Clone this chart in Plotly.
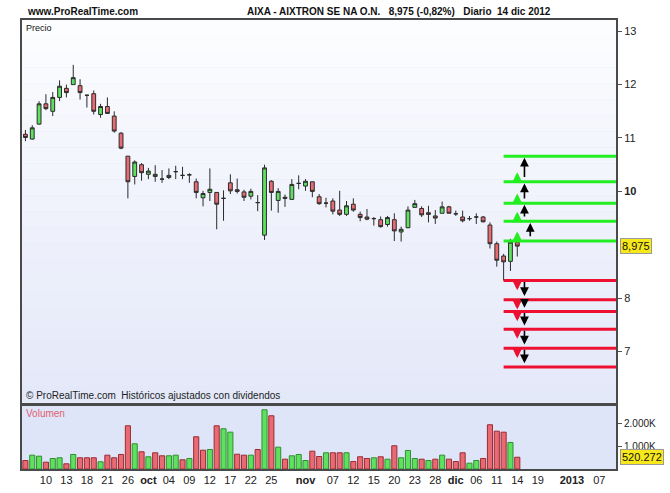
import plotly.graph_objects as go

# ---------------- data ----------------
day_index = list(range(-3, 70))  # trading-day index, 0 = 10 Sep 2012
opens = [11.07, 10.98, 11.26, 11.64, 11.50, 11.76, 11.93, 12.00, 11.98, 11.80,
         11.83, 11.44, 11.59, 11.41, 11.09, 10.66, 10.28, 10.50, 10.32, 10.28,
         10.23, 10.26, 10.37, 10.30, 10.31, 10.18, 9.88, 9.98, 9.98, 9.87,
         10.16, 10.03, 9.99, 9.91, 9.79, 9.18, 10.19, 9.83, 9.89, 9.85,
         10.15, 10.10, 10.18, 9.90, 9.78, 9.82, 9.65, 9.57, 9.76, 9.57,
         9.52, 9.49, 9.47, 9.38, 9.47, 9.24, 9.32, 9.70, 9.68, 9.60,
         9.54, 9.59, 9.71, 9.58, 9.52, 9.49, 9.52, 9.52, 9.37, 9.02,
         8.79, 8.69, 9.05]
highs = [11.15, 11.24, 11.69, 11.82, 11.86, 12.08, 12.00, 12.37, 12.10, 11.81,
         11.89, 11.64, 11.76, 11.50, 11.11, 10.66, 10.58, 10.53, 10.44, 10.49,
         10.40, 10.43, 10.48, 10.46, 10.34, 10.24, 10.01, 10.43, 9.98, 10.02,
         10.32, 10.24, 10.03, 10.05, 9.93, 10.50, 10.21, 10.06, 9.94, 10.23,
         10.30, 10.23, 10.18, 9.95, 9.88, 9.87, 10.01, 9.82, 9.87, 9.62,
         9.67, 9.52, 9.53, 9.54, 9.59, 9.34, 9.72, 9.84, 9.72, 9.73,
         9.65, 9.81, 9.73, 9.64, 9.64, 9.54, 9.59, 9.54, 9.42, 9.06,
         8.83, 9.11, 9.13]
lows = [10.94, 10.97, 11.25, 11.52, 11.41, 11.69, 11.76, 12.00, 11.72, 11.57,
        11.44, 11.38, 11.46, 11.10, 10.79, 9.87, 10.13, 10.20, 10.23, 10.18,
        10.16, 10.23, 10.23, 10.23, 10.16, 9.87, 9.72, 9.82, 9.29, 9.45,
        9.95, 9.96, 9.82, 9.85, 9.63, 9.09, 9.64, 9.60, 9.71, 9.85,
        10.04, 10.01, 9.89, 9.75, 9.70, 9.57, 9.54, 9.54, 9.62, 9.44,
        9.46, 9.36, 9.32, 9.34, 9.07, 9.06, 9.31, 9.70, 9.52, 9.42,
        9.39, 9.59, 9.59, 9.54, 9.42, 9.45, 9.39, 9.42, 8.93, 8.59,
        8.33, 8.51, 8.78]
closes = [11.01, 11.19, 11.64, 11.55, 11.76, 11.97, 11.85, 12.13, 11.85, 11.80,
          11.50, 11.59, 11.46, 11.13, 10.81, 10.18, 10.55, 10.35, 10.38, 10.32,
          10.23, 10.30, 10.37, 10.30, 10.31, 9.98, 9.96, 10.04, 9.76, 9.87,
          10.01, 10.00, 9.89, 10.00, 9.79, 10.44, 9.98, 10.00, 9.87, 10.13,
          10.15, 10.19, 10.00, 9.77, 9.78, 9.63, 9.57, 9.73, 9.65, 9.51,
          9.48, 9.49, 9.34, 9.51, 9.26, 9.29, 9.65, 9.77, 9.56, 9.57,
          9.50, 9.71, 9.59, 9.58, 9.45, 9.49, 9.52, 9.43, 9.02, 8.71,
          8.68, 9.05, 8.975]
volumes_k = [376, 611, 566, 301, 465, 496, 230, 642, 496, 496,
             496, 319, 611, 496, 642, 1911, 1115, 761, 540, 717,
             584, 584, 611, 407, 465, 1425, 832, 863, 1911, 1779,
             1630, 655, 611, 611, 863, 2619, 2354, 965, 434, 584,
             642, 376, 788, 553, 717, 717, 717, 717, 332, 540,
             465, 496, 540, 434, 1027, 496, 819, 465, 434, 376,
             434, 611, 434, 332, 717, 257, 376, 465, 1956, 1673,
             1628, 1173, 520.272]

resistance_levels = [10.66, 10.18, 9.78, 9.44, 9.07]
support_levels = [8.33, 7.97, 7.75, 7.42, 7.06, 6.71]
levels_start_day = 67

tick_days = [0, 3, 6, 9, 12, 15, 18, 21, 24, 27, 30, 33, 38, 42, 45, 48, 51, 54,
             57, 60, 63, 66, 69, 72, 77, 81]
tick_labels = ["10", "13", "18", "21", "26", "<b>oct</b>", "04", "09", "12", "17",
               "22", "25", "<b>nov</b>", "07", "12", "15", "20", "23", "28",
               "<b>dic</b>", "06", "11", "14", "19", "<b>2013</b>", "07"]
price_ticks = [7, 8, 10, 11, 12, 13]
price_tick_labels = ["7", "8", "<b>10</b>", "11", "12", "13"]
vol_ticks = [1000, 2000]
vol_tick_labels = ["1.000K", "2.000K"]

last_price_label = "8,975"
last_vol_label = "520.272"
title_text = "AIXA - AIXTRON SE NA O.N.&nbsp;&nbsp; 8,975 (-0,82%)&nbsp;&nbsp; Diario&nbsp; 14 dic 2012"

# ---------------- style ----------------
GREEN = "#5fe05f"
RED = "#e86a72"
X_MIN, X_MAX = -3.5, 83.45
FONT = "Liberation Sans, Arial, sans-serif"

fig = go.Figure()

fig.add_trace(go.Candlestick(
    x=day_index, open=opens, high=highs, low=lows, close=closes,
    xaxis="x2", yaxis="y",
    increasing=dict(fillcolor=GREEN, line=dict(color="#2b2b2b", width=1)),
    decreasing=dict(fillcolor=RED, line=dict(color="#2b2b2b", width=1)),
    whiskerwidth=0, showlegend=False, hoverinfo="skip",
))

vol_colors, vol_lines = [], []
for i, c in enumerate(closes):
    up = i > 0 and c > closes[i - 1]
    vol_colors.append(GREEN if up else RED)
    vol_lines.append("#2f8f2f" if up else "#9b2a33")

fig.add_trace(go.Bar(
    x=day_index, y=volumes_k, xaxis="x", yaxis="y2",
    marker=dict(color=vol_colors, line=dict(color=vol_lines, width=1)),
    showlegend=False, hoverinfo="skip",
))

for lv in resistance_levels:
    fig.add_trace(go.Scatter(x=[levels_start_day, X_MAX], y=[lv, lv], mode="lines",
                             line=dict(color="#22ee22", width=3), xaxis="x2", yaxis="y",
                             showlegend=False, hoverinfo="skip"))
for lv in support_levels:
    fig.add_trace(go.Scatter(x=[levels_start_day, X_MAX], y=[lv, lv], mode="lines",
                             line=dict(color="#ee1030", width=3), xaxis="x2", yaxis="y",
                             showlegend=False, hoverinfo="skip"))

annotations = []
arrow_day = day_index[-1]


def arrow(x, y_head, y_tail, color, width, size):
    annotations.append(dict(x=x, y=y_head, ax=x, ay=y_tail, xref="x2", yref="y",
                            axref="x2", ayref="y", showarrow=True, arrowhead=2,
                            arrowsize=size, arrowwidth=width, arrowcolor=color,
                            standoff=0, startstandoff=0, text=""))


for lv in resistance_levels[1:]:
    arrow(arrow_day, lv + 0.18, lv, "#22ee22", 3, 0.7)
for lv in support_levels[:-1]:
    arrow(arrow_day, lv - 0.18, lv, "#ee1030", 3, 0.7)
ups = sorted(resistance_levels)
for k in range(len(ups) - 1):
    xx = arrow_day + (1.9 if k == 0 else 1.05)
    arrow(xx, ups[k + 1] - 0.03, ups[k] + 0.06, "black", 1.6, 1.1)
for k in range(len(support_levels) - 1):
    arrow(arrow_day + 1.05, support_levels[k + 1] + 0.07, support_levels[k], "black", 1.6, 1.1)

annotations += [
    dict(x=0, y=1, xref="paper", yref="paper", xanchor="left", yanchor="bottom",
         xshift=3, yshift=1, text="<b>www.ProRealTime.com</b>", showarrow=False,
         font=dict(family=FONT, size=10, color="#111")),
    dict(x=0.635, y=1, xref="paper", yref="paper", xanchor="center", yanchor="bottom",
         yshift=1, text="<b>" + title_text + "</b>", showarrow=False,
         font=dict(family=FONT, size=10, color="#111")),
    dict(x=0, y=1, xref="x2 domain", yref="y domain", xanchor="left", yanchor="top",
         xshift=2, yshift=-1, text="Precio", showarrow=False,
         font=dict(family=FONT, size=9, color="#111")),
    dict(x=0, y=0, xref="x2 domain", yref="y domain", xanchor="left", yanchor="bottom",
         xshift=2, yshift=0, text="© ProRealTime.com  Históricos ajustados con dividendos",
         showarrow=False, font=dict(family=FONT, size=10, color="#222")),
    dict(x=0, y=1, xref="x domain", yref="y2 domain", xanchor="left", yanchor="top",
         xshift=2, yshift=0, text="Volumen", showarrow=False,
         font=dict(family=FONT, size=10, color="#e06070")),
    dict(x=1, y=closes[-1], xref="x2 domain", yref="y", xanchor="left", yanchor="middle",
         xshift=4, text=last_price_label, showarrow=False, bgcolor="#f7e81c",
         bordercolor="#9a9a9a", borderwidth=1, borderpad=1,
         font=dict(family=FONT, size=11, color="#111")),
    dict(x=1, y=volumes_k[-1], xref="x domain", yref="y2", xanchor="left", yanchor="middle",
         xshift=4, text=last_vol_label, showarrow=False, bgcolor="#f7e81c",
         bordercolor="#9a9a9a", borderwidth=1, borderpad=1,
         font=dict(family=FONT, size=11, color="#111")),
]

shapes = []
n = 24
for k in range(n):
    t = k / (n - 1)
    r = int(252 - t * (252 - 228))
    g = int(253 - t * (253 - 233))
    b = int(255 - t * (255 - 249))
    shapes.append(dict(type="rect", xref="x2 domain", yref="y domain", x0=0, x1=1,
                       y0=1 - (k + 1) / n, y1=1 - k / n, fillcolor=f"rgb({r},{g},{b})",
                       line=dict(width=0), layer="below"))

axis_line = dict(showline=True, linecolor="#4a4a4a", linewidth=2, mirror=True,
                 showgrid=False, zeroline=False)

fig.update_layout(
    width=670, height=493,
    margin=dict(l=22, r=54, t=20, b=24),
    paper_bgcolor="white", plot_bgcolor="#dfe5f8",
    bargap=0.25, boxgap=0.2,
    font=dict(family=FONT, size=11, color="#222"),
    xaxis=dict(domain=[0, 1], anchor="y2", range=[X_MIN, X_MAX], tickmode="array",
               tickvals=tick_days, ticktext=tick_labels, ticks="", tickfont=dict(size=11),
               automargin=False, **axis_line),
    xaxis2=dict(domain=[0, 1], anchor="y", matches="x", showticklabels=False, ticks="",
                rangeslider=dict(visible=False), automargin=False, **axis_line),
    yaxis=dict(domain=[0.148, 1], anchor="x2", side="right", range=[6.045, 13.21],
               tickmode="array", tickvals=price_ticks, ticktext=price_tick_labels,
               ticks="outside", ticklen=4, tickcolor="#555", tickfont=dict(size=11),
               automargin=False, **axis_line),
    yaxis2=dict(domain=[0, 0.141], anchor="x", side="right", range=[0, 2800],
                tickmode="array", tickvals=vol_ticks, ticktext=vol_tick_labels,
                ticks="outside", ticklen=4, tickcolor="#555", tickfont=dict(size=10),
                automargin=False, **axis_line),
    annotations=annotations,
    shapes=shapes,
)

# remove the browser's default 8px body margin so the figure fills the window
fig.write_html("out.html", config={"displayModeBar": False},
               post_script="document.body.style.margin='0';")
